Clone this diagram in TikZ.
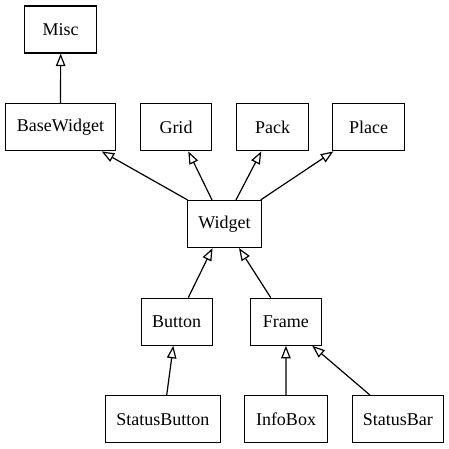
\documentclass[tikz,border=0pt]{standalone}
\usepackage{fontspec}
\setmainfont{Liberation Serif}
\usetikzlibrary{arrows.meta}
\begin{document}
\begin{tikzpicture}[x=1pt,y=-1pt,
  cls/.style={draw, line width=1.2pt, minimum height=47pt, inner sep=0pt,
    font=\fontsize{18}{20}\selectfont},
  inh/.style={line width=1.2pt, -{Triangle[open,length=12.5pt,width=9.5pt,line width=1.2pt]}}]
\useasboundingbox (0,0) rectangle (449,449);
\node[cls, minimum width=72pt] (misc) at (60.7,29.5) {Misc};
\node[cls, minimum width=110pt] (bw) at (60.5,127.3) {BaseWidget};
\node[cls, minimum width=71pt] (grid) at (176,127.3) {Grid};
\node[cls, minimum width=72pt] (pack) at (272.7,127.3) {Pack};
\node[cls, minimum width=72pt] (place) at (368.7,127.3) {Place};
\node[cls, minimum width=74.6pt] (w) at (224.5,224) {Widget};
\node[cls, minimum width=71pt] (btn) at (176.7,321.7) {Button};
\node[cls, minimum width=71.3pt] (frame) at (285.9,321.7) {Frame};
\node[cls, minimum width=114.7pt] (sbtn) at (162.9,419.2) {StatusButton};
\node[cls, minimum width=82.4pt] (info) at (286,419.2) {InfoBox};
\node[cls, minimum width=91.3pt] (sbar) at (397.9,419.2) {StatusBar};
\draw[inh] (bw.north) -- (misc.south);
\draw[inh] ([xshift=-37pt]w.north) -- ([xshift=41.2pt]bw.south);
\draw[inh] ([xshift=-12.5pt]w.north) -- ([xshift=12.3pt]grid.south);
\draw[inh] ([xshift=11.5pt]w.north) -- ([xshift=-11.4pt]pack.south);
\draw[inh] ([xshift=36.2pt]w.north) -- ([xshift=-35.4pt]place.south);
\draw[inh] ([xshift=11.6pt]btn.north) -- ([xshift=-12pt]w.south);
\draw[inh] ([xshift=-15.2pt]frame.north) -- ([xshift=14.5pt]w.south);
\draw[inh] ([xshift=3.8pt]sbtn.north) -- ([xshift=-3.4pt]btn.south);
\draw[inh] (info.north) -- (frame.south);
\draw[inh] ([xshift=-27.9pt]sbar.north) -- ([xshift=26.4pt]frame.south);
\end{tikzpicture}
\end{document}
